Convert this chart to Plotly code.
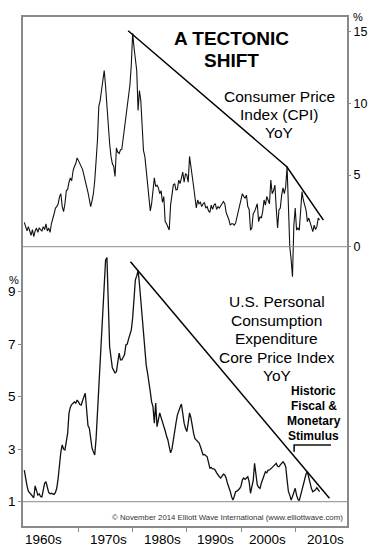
import plotly.graph_objects as go

# ---------------- data (quarterly) ----------------
start_year = 1960

cpi_yoy = [
    1.7, 1.4, 1.1, 1.4,   1.0, 0.8, 1.2, 0.7,   1.1, 1.3, 1.0, 1.3,   1.2, 1.1, 1.4, 1.2,
    1.6, 1.1, 1.3, 1.0,   1.6, 1.9, 2.3, 2.7,   2.8, 3.0, 3.5, 3.7,   2.8, 2.45, 3.0, 3.9,
    4.0, 4.5, 4.8, 4.6,   5.3, 5.6, 5.8, 6.2,   6.0, 5.9, 5.6, 5.4,   5.0, 4.6, 4.4, 3.8,
    3.3, 2.8, 3.2, 3.7,   4.6, 5.8, 7.4, 9.8,   10.2, 10.9, 11.6, 12.3, 11.2, 9.7, 8.0, 7.2,
    6.3, 5.8, 5.6, 4.9,   6.9, 6.6, 6.5, 6.75,  6.8, 7.6, 8.3, 9.0,   10.0, 10.5, 11.3, 12.7,
    14.9, 13.9, 12.8, 12.3, 9.5, 10.9, 10.2, 8.6, 6.7, 6.3, 5.4, 4.2, 3.6, 2.5, 3.0, 3.8,
    4.8, 4.2, 4.3, 4.1,   3.7, 3.9, 3.1, 3.5,   1.75, 1.6, 1.4, 1.16, 2.9, 3.8, 4.3, 4.4,
    3.96, 4.0, 4.65, 4.4, 4.9, 5.2, 4.5, 5.1,   5.0, 4.5, 6.3, 5.35,  4.9, 4.2, 3.5, 2.7,
    3.26, 3.0, 3.1, 2.8,  3.0, 3.1, 2.7, 2.8,   2.5, 2.4, 2.9, 2.6,   2.9, 3.0, 2.6, 2.8,
    2.7, 2.9, 3.0, 3.15,  3.0, 2.4, 2.2, 1.9,   1.5, 1.6, 1.6, 1.5,   1.65, 2.1, 2.4, 2.9,
    3.2, 3.7, 3.5, 3.4,   3.6, 2.8, 2.6, 1.16,  1.3, 2.3, 2.45, 2.7,  3.0, 1.75, 2.1, 2.0,
    2.45, 3.26, 2.9, 3.5, 3.3, 3.0, 4.65, 3.7,  3.9, 4.3, 2.7, 1.3,   2.56, 2.7, 3.6, 4.1,
    3.7, 4.2, 5.6, 2.1,   0.0, -0.9, -2.1, 1.5, 2.7, 1.16, 1.3, 1.16, 2.9, 3.84, 3.26, 2.9,
    2.56, 1.75, 2.0, 1.7, 1.4, 1.05, 1.5, 1.2,  1.4, 2.0, 1.86,
]

pce_core_yoy = [
    2.2, 1.83, 1.6, 1.4,  1.33, 1.3, 1.2, 1.15, 1.6, 1.4, 1.25, 1.3,  1.2, 1.18, 1.5, 1.7,
    1.76, 1.5, 1.35, 1.3, 1.32, 1.3, 1.28, 1.35, 1.52, 1.9, 2.47, 2.9, 3.16, 3.0, 2.97, 3.28,
    3.6, 4.37, 4.6, 4.7,  4.76, 4.8, 4.75, 4.87, 4.8, 4.7, 4.68, 4.9,  5.0, 5.13, 4.4, 3.9,
    3.8, 3.3, 3.04, 2.9,  2.78, 3.4, 4.3, 5.2,  6.1, 7.5, 8.4, 9.3,   10.2, 10.3, 8.7, 6.9,
    6.5, 6.1, 6.0, 5.9,   5.95, 6.3, 6.66, 6.4, 6.4, 6.5, 6.6, 6.97,  7.0, 7.2, 7.4, 7.54,
    8.0, 8.95, 9.45, 9.6, 9.8, 9.3, 8.7, 7.8,   7.2, 6.9, 6.2, 5.9,   5.6, 5.19, 4.8, 4.62,
    3.99, 4.76, 3.86, 4.2, 4.38, 4.2, 4.05, 3.9, 3.7, 3.5, 3.35, 3.1, 2.86, 3.0, 3.4, 3.73,
    4.0, 4.3, 4.49, 4.6,  4.72, 4.3, 3.99, 3.8, 3.67, 4.0, 4.38, 4.2, 3.8, 3.6, 3.4, 3.35,
    3.3, 3.24, 3.1, 2.9,  2.78, 2.8, 2.75, 2.71, 2.5, 2.28, 2.3, 2.25, 2.25, 2.2, 2.1, 2.0,
    1.95, 1.9, 2.0, 2.05, 2.02, 1.9, 1.7, 1.57, 1.4, 1.2, 1.06, 1.2,  1.38, 1.4, 1.45, 1.5,
    1.6, 1.83, 1.9, 1.85, 1.9, 1.95, 1.76, 1.32, 1.57, 1.8, 2.46, 1.9, 1.64, 1.55, 1.51, 1.7,
    1.89, 2.0, 2.14, 2.1, 2.2, 2.21, 2.25, 2.3, 2.33, 2.4, 2.46, 2.35, 2.33, 2.4, 2.45, 2.52,
    2.45, 2.33, 1.83, 1.38, 1.25, 1.06, 1.2, 1.38, 1.51, 1.25, 1.1, 1.04, 1.25, 1.5, 1.7, 1.89,
    2.05, 2.14, 1.89, 1.7, 1.5, 1.38, 1.42, 1.45, 1.53, 1.45, 1.38,
]

cpi_t = [start_year + i / 4 for i in range(len(cpi_yoy))]
pce_t = [start_year + i / 4 for i in range(len(pce_core_yoy))]

# trendlines drawn on the chart (year, value)
cpi_trend_x = [1979.17, 2008.45, 2015.21]
cpi_trend_y = [15.07, 5.58, 1.86]
pce_trend_x = [1979.6, 2016.32]
pce_trend_y = [10.14, 1.13]

decade_labels = ["1960s", "1970s", "1980s", "1990s", "2000s", "2010s"]
decade_ticks = [1970, 1980, 1990, 2000, 2010]
cpi_ticks = [0, 5, 10, 15]
pce_ticks = [1, 3, 5, 7, 9]

# ---------------- layout geometry ----------------
# page is 376x554; the default body margin puts the figure at (8, 8)
OFF = 8
W, H = 376 - 2 * OFF, 554 - 2 * OFF
L, R, T, B = 23 - OFF, W - (347 - OFF), 17 - OFF, H - (526 - OFF)
PW, PH = W - L - R, H - T - B
FONT = "Liberation Sans, Arial, Helvetica, sans-serif"
GRAY = "#8a8a8a"


def xp(px):  # page pixel -> paper
    return (px - OFF - L) / PW


def yp(py):
    return (H - B - (py - OFF)) / PH


fig = go.Figure()
fig.add_trace(go.Scatter(x=cpi_t, y=cpi_yoy, yaxis="y2", mode="lines",
                         line=dict(color="#111111", width=1.1), hoverinfo="skip"))
fig.add_trace(go.Scatter(x=pce_t, y=pce_core_yoy, yaxis="y", mode="lines",
                         line=dict(color="#111111", width=1.3), hoverinfo="skip"))
fig.add_trace(go.Scatter(x=cpi_trend_x, y=cpi_trend_y, yaxis="y2", mode="lines",
                         line=dict(color="#000000", width=1.5), hoverinfo="skip"))
fig.add_trace(go.Scatter(x=pce_trend_x, y=pce_trend_y, yaxis="y", mode="lines",
                         line=dict(color="#000000", width=1.5), hoverinfo="skip"))

# reference lines at CPI 0 and PCE 1
fig.add_shape(type="line", xref="paper", x0=0, x1=1, yref="y2", y0=0, y1=0,
              line=dict(color=GRAY, width=1))
fig.add_shape(type="line", xref="paper", x0=0, x1=1, yref="y", y0=1, y1=1,
              line=dict(color=GRAY, width=1))
# stimulus bracket
fig.add_shape(type="path", xref="x", yref="y",
              path="M 2009.8 2.90 L 2009.8 3.16 L 2016.6 3.16",
              line=dict(color="#111111", width=1.6))

annotations = []


def ann(text, px, py, size, bold=False, xanchor="center", color="#000000"):
    if bold:
        text = "<b>" + text + "</b>"
    annotations.append(dict(text=text, x=xp(px), y=yp(py), xref="paper", yref="paper",
                            xanchor=xanchor, yanchor="middle", showarrow=False,
                            font=dict(family=FONT, size=size, color=color)))


ann("A TECTONIC", 231.5, 38.5, 19, bold=True)
ann("SHIFT", 231.5, 60.5, 19, bold=True)

for txt, py in zip(["Consumer Price", "Index (CPI)", "YoY"], [96.5, 114.5, 132.5]):
    ann(txt, 279, py, 15.5)

for txt, py in zip(["U.S. Personal", "Consumption", "Expenditure", "Core Price Index", "YoY"],
                   [301.5, 320, 338.5, 357, 375.5]):
    ann(txt, 276.5, py, 15.5)

for txt, py in zip(["Historic", "Fiscal &amp;", "Monetary", "Stimulus"], [391, 406, 421, 436]):
    ann(txt, 313.5, py, 12, bold=True)

ann("© November 2014 Elliott Wave International (www.elliottwave.com)", 345, 517.5, 7.8,
    xanchor="right", color="#333333")

ann("%", 358, 17, 11)
ann("%", 14, 279.5, 11)

# decade labels
label_px = [23, 108, 162, 215, 267, 325]
for i, (lab, px) in enumerate(zip(decade_labels, label_px)):
    ann(lab, px, 539.5, 13.5, xanchor="left" if i == 0 else "center")

fig.update_layout(
    width=W, height=H,
    margin=dict(l=L, r=R, t=T, b=B, pad=0),
    paper_bgcolor="white", plot_bgcolor="white",
    showlegend=False,
    font=dict(family=FONT, size=13, color="#000000"),
    annotations=annotations,
    xaxis=dict(range=[1959.76, 2019.56], tickvals=decade_ticks, ticktext=[""] * len(decade_ticks),
               ticks="outside", ticklen=4, tickcolor=GRAY, tickwidth=1,
               showline=True, linecolor=GRAY, linewidth=1.5, mirror=True,
               showgrid=False, zeroline=False, automargin=False, fixedrange=True),
    yaxis=dict(range=[0.074, 19.46], tickvals=pce_ticks, ticks="outside", ticklen=3,
               tickcolor=GRAY, tickfont=dict(size=13.5), showline=True, linecolor=GRAY,
               linewidth=1.5, showgrid=False, zeroline=False, automargin=False, fixedrange=True),
    yaxis2=dict(range=[-19.49, 16.03], tickvals=cpi_ticks, ticks="outside", ticklen=2,
                tickcolor=GRAY, tickfont=dict(size=12.5), overlaying="y", side="right",
                showline=True, linecolor=GRAY, linewidth=2, showgrid=False, zeroline=False,
                automargin=False, fixedrange=True),
)

fig.write_html("out.html", config={"displayModeBar": False})
